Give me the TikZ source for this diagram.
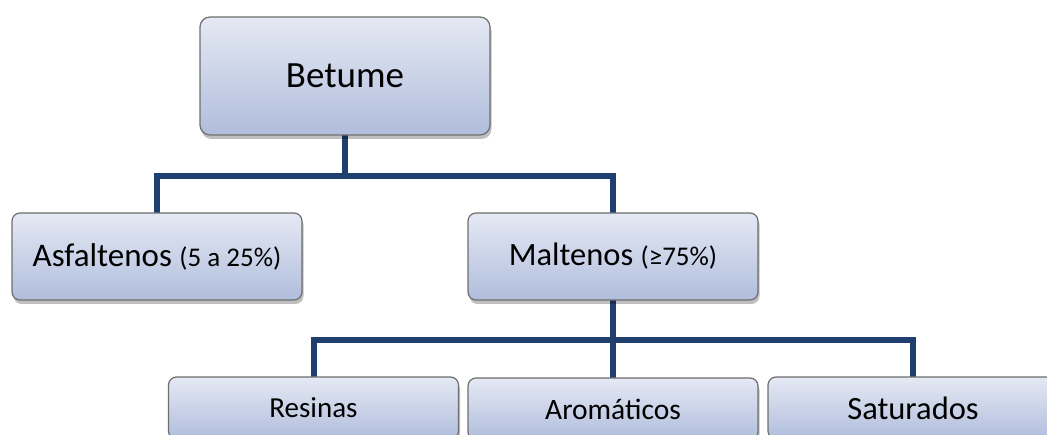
\documentclass[tikz,border=0pt]{standalone}
\usepackage{fontspec}
\setmainfont{Carlito}
\usepackage{xcolor}
\definecolor{cLine}{HTML}{1F3F6E}
\definecolor{cTop}{HTML}{E5E9F4}
\definecolor{cBot}{HTML}{B0BDDC}
\definecolor{cEdge}{HTML}{6E6E6E}
\usetikzlibrary{positioning,shadows,backgrounds}
\tikzset{
  node-box/.style={draw=cEdge,line width=1.2pt,rounded corners=8pt,
    top color=cTop,bottom color=cBot,minimum width=290pt,minimum height=87pt,
    align=center,inner sep=0pt,
    drop shadow={shadow xshift=1.5pt,shadow yshift=-4pt,opacity=0.25,fill=black}},
  node-leaf/.style={node-box,minimum height=62pt},
  conn/.style={draw=cLine,line width=6pt,line cap=rect},
}
\begin{document}
\begin{tikzpicture}[x=1pt,y=-1pt]
  \useasboundingbox (0,0) rectangle (1047,435);
  \clip (0,0) rectangle (1047,435);
  % nivel 1
  \node[node-box,minimum height=118pt,rounded corners=10pt,
    font=\fontsize{37}{40}\selectfont] (betume) at (345,76) {Betume};
  % nivel 2
  \node[node-box,font=\fontsize{33}{36}\selectfont] (asfalt) at (157,256.5)
    {Asfaltenos {\fontsize{27}{30}\selectfont(5 a 25\%)}};
  \node[node-box,font=\fontsize{32.5}{36}\selectfont] (malt) at (613,256.5)
    {Maltenos {\fontsize{27}{30}\selectfont(≥75\%)}};
  % nivel 3
  \node[node-leaf,font=\fontsize{29}{32}\selectfont] (resinas) at (313.5,408) {Resinas};
  \node[node-leaf,font=\fontsize{29.5}{32}\selectfont] (aromat) at (613,409) {Aromáticos};
  \node[node-leaf,font=\fontsize{32.5}{35}\selectfont] (satur) at (913,408) {Saturados};
  % ligacoes
  \coordinate (split1) at (345,176);
  \coordinate (split2) at (613,340);
  \begin{scope}[on background layer]
    \draw[conn] (betume.south) -- (split1);
    \draw[conn] (split1) -| (asfalt.north);
    \draw[conn] (split1) -| (malt.north);
    \draw[conn] (malt.south) -- (split2);
    \draw[conn] (split2) -| (resinas.north);
    \draw[conn] (split2) -- (aromat.north);
    \draw[conn] (split2) -| (satur.north);
  \end{scope}
\end{tikzpicture}
\end{document}
